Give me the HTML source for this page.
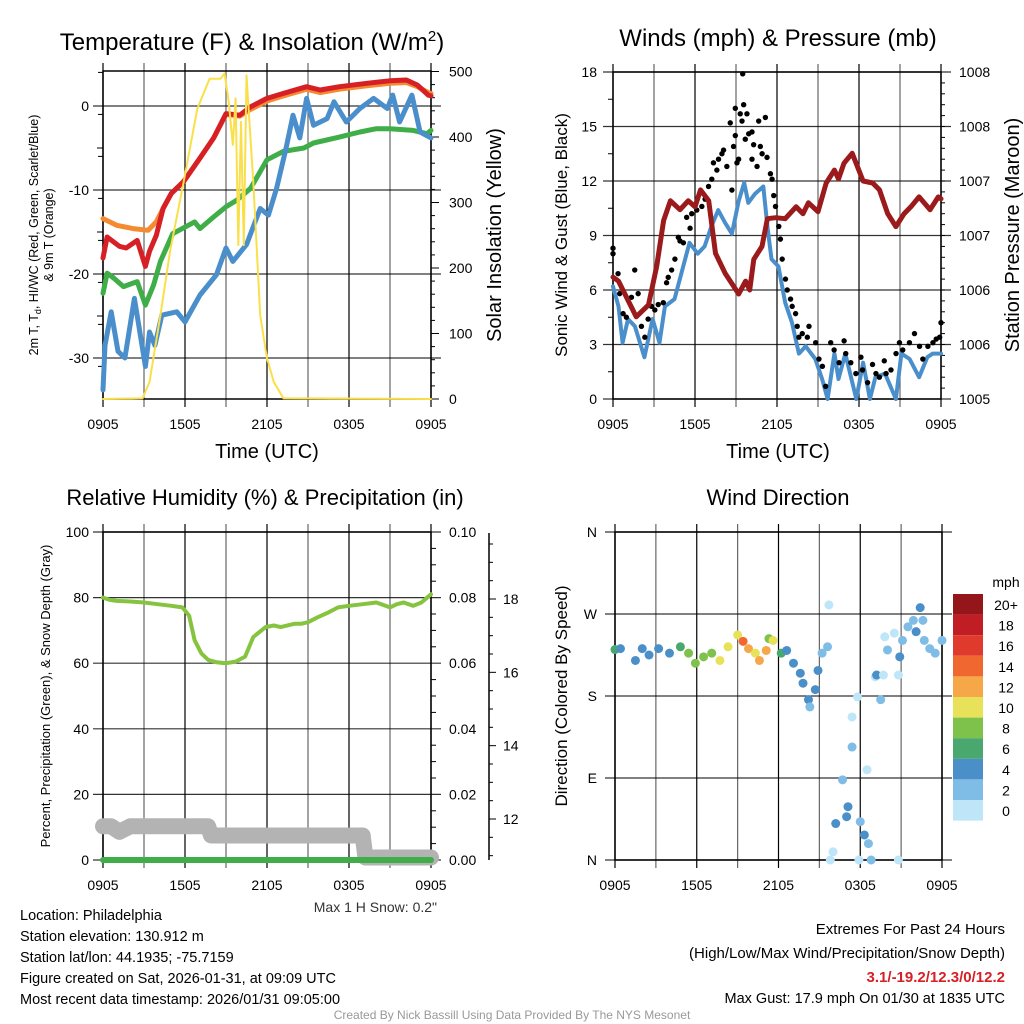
<!DOCTYPE html>
<html><head><meta charset="utf-8"><style>
html,body{margin:0;padding:0;background:#fff;}
svg{display:block;font-family:"Liberation Sans",Arial,sans-serif;}
</style></head><body>
<svg id="c" width="1024" height="1024" viewBox="0 0 1024 1024"></svg>
<script>
// ===== Data (hours since 0905 UTC) =====
const redHours = [0,0.3,0.8,1.2,1.7,2.5,3.1,3.4,3.9,4.4,5,5.9,7.1,8.1,9,10,10.8,12,13.2,14.9,15.9,17.3,19.3,21,22.2,23,23.8,24];
const tempRed = [-18.1,-15.6,-16.2,-16.7,-16.9,-16,-19.1,-17.3,-15.4,-12.2,-10.4,-9,-6.2,-3.8,-0.9,-1.1,-0.1,0.9,1.5,2.3,1.9,2.3,2.7,3,3.1,2.5,1.3,1.2];
const orangeHours = [0,1,2.2,3.3,3.9,4.4,5,5.9,7.1,8.1,9,10,10.8,12,13.2,14.9,15.9,17.3,19.3,21,22.2,23,23.8,24];
const tempOrange = [-13.4,-14.2,-14.6,-14.8,-13.8,-12.2,-10.4,-9,-6.2,-3.8,-1.0,-1.2,-0.4,0.6,1.2,2.0,1.6,2.0,2.4,2.7,2.8,2.3,1.6,1.5];
const greenHours = [0,0.3,0.8,1.5,2.5,3.1,3.7,4.2,5.1,6.7,7.1,8.1,9,9.8,10.8,12,13.2,14.7,15.4,17.3,18.8,20,21,22.7,23.7,24];
const tempGreen = [-22.3,-19.9,-20.5,-21.5,-20.9,-23.7,-21.3,-18.5,-15.2,-13.8,-14.6,-13.2,-12,-11.2,-9.8,-6.4,-5.4,-5,-4.4,-3.7,-3.1,-2.7,-2.7,-2.9,-3.3,-2.9];
const blueHours = [0,0.15,0.6,1.1,1.6,2.3,3.1,3.4,3.8,4.3,5.4,6,7.1,8.3,9,9.5,10.5,11.5,12.1,12.7,13.4,13.9,14.4,14.9,15.4,16.4,16.9,17.8,18.8,19.8,20.8,21.2,21.7,22.6,23.2,24];
const tempBlue = [-33.8,-28.5,-24.5,-29.2,-30,-22.9,-31,-26.9,-28.5,-24.9,-24.5,-25.7,-22.5,-20.1,-16.9,-18.5,-16.5,-12.2,-13,-9.8,-5,-1.1,-3.8,0.9,-2.3,-1.5,0.5,-1.9,-0.3,0.9,-0.3,1.3,-1.9,1.3,-3.1,-3.8];
const solHours = [0,2.9,3.4,4.2,4.9,5.9,6.9,7.8,8.6,8.9,9.2,9.5,9.7,9.9,10.1,10.3,10.5,11,11.5,12,12.5,13.2,24];
const insolation = [0,1,26,128,225,331,443,489,489,497,454,388,459,235,423,235,494,331,128,62,26,1,0];

const windHours = [0,0.4,0.7,1.1,1.6,2.3,2.9,3.4,3.8,4.5,5,5.6,6.2,6.7,7.2,7.7,8.2,8.7,9.2,9.6,9.9,10.4,11,11.3,11.6,12.1,12.6,13.1,13.6,14.1,14.8,15.3,15.7,16.2,16.5,17,17.8,18.3,18.8,19.2,19.9,20.7,21.1,21.7,22.4,23,23.4,24];
const windSpeed = [6.2,5.1,3.1,4.4,4,2.3,4.4,3.1,5.1,5.5,6.9,8.6,8,8.4,9.5,10.4,9.7,9.1,10.9,11.9,10.8,11.3,11.7,9.5,7.7,7.3,5.3,4.2,2.5,2.9,2.2,1.1,0,2.5,1.1,2.5,0,2,0,1.2,1.4,0,2.5,2.2,1.2,2.3,2.5,2.5];
const gustHours = [0,0,0.37,0.49,0.74,0.98,1.35,1.59,1.84,2.08,2.33,2.57,2.82,3.06,3.31,3.68,3.92,4.04,4.29,4.53,4.78,4.9,5.15,5.39,5.64,5.76,6.13,6.5,6.74,6.99,7.23,7.35,7.6,7.72,7.97,8.09,8.33,8.58,8.7,8.82,8.95,9.07,9.19,8.95,9.31,9.44,9.56,9.49,9.68,9.8,9.93,10.17,10.17,10.29,10.54,10.66,10.78,10.91,11.15,11.27,11.52,11.64,11.76,11.89,12.13,12.25,12.38,12.62,12.75,12.99,13.11,13.36,13.48,13.6,13.85,14.22,14.34,14.83,15.07,15.32,15.56,15.93,16.18,16.54,16.91,17.03,17.4,17.77,18.14,18.26,18.63,18.99,19.24,19.49,19.85,19.98,20.34,20.71,20.96,21.2,21.69,22.06,22.43,22.67,23.04,23.41,23.65,23.9,24];
const windGust = [8.0,8.3,6.9,5.8,4.7,4.5,5.6,7.1,5.8,4.0,3.4,4.4,5.1,4.9,5.2,5.3,6.4,6.7,7.1,7.7,8.9,8.7,8.6,10.0,9.4,10.2,10.4,10.6,11.0,11.7,12.1,13.0,12.6,13.2,13.5,13.7,12.8,15.2,11.5,13.9,14.5,13.0,13.2,16.0,15.7,15.3,16.2,17.9,14.3,15.7,14.6,14.7,13.2,14.0,12.8,15.3,13.9,13.5,15.5,13.3,12.4,12.1,11.2,10.6,9.5,8.8,7.7,6.6,6.0,5.5,5.1,4.7,4.0,3.4,3.6,3.4,4.0,3.1,2.2,1.8,0.7,3.1,2.7,2.0,3.2,2.5,2.0,1.4,2.3,1.6,0.9,1.9,1.4,1.2,2.1,1.4,1.6,2.5,3.1,2.7,3.1,3.6,2.9,2.2,2.9,3.1,3.3,3.4,4.2];
const presHours = [0,0.4,1.7,2.6,3.2,3.7,4.2,4.9,5.5,6,6.4,7,7.5,8.2,9.2,9.7,10,10.3,10.9,11.3,11.9,12.6,13.4,13.9,14.3,15,15.6,16.2,16.5,16.9,17.5,18.3,19,19.5,20.1,20.7,21.3,21.8,22.4,23.2,23.8,24];
const pressure = [1006.23,1006.19,1005.83,1005.95,1006.34,1006.80,1007.00,1006.91,1007.00,1006.94,1007.11,1007.00,1006.47,1006.27,1006.06,1006.19,1006.10,1006.41,1006.54,1006.82,1006.83,1006.82,1006.94,1006.87,1006.98,1006.89,1007.18,1007.31,1007.22,1007.38,1007.48,1007.20,1007.18,1007.11,1006.87,1006.74,1006.87,1006.94,1007.04,1006.91,1007.04,1007.02];

const rhHours = [0,0.5,1,2,3,4,5,5.8,6.3,6.7,7.2,7.7,8.3,9,9.7,10.4,11,11.9,12.5,13,14,14.5,15,15.7,16.5,17.2,18,19,20,21,21.5,22,22.7,23.3,24];
const rh = [80,79.3,79,78.8,78.5,78,77.5,77,74.5,67,63,61,60.3,60,60.5,62,68,71,71.5,71,72,72,72.5,74,75.5,77,77.5,78,78.5,77,78,78.5,77.5,78.5,81];
const precip = [0,0];
const precipHours = [0,24];
const snowHours = [0,0.6,1.2,2,7.7,7.9,19,19.2,24];
const snowDepth = [11.8,11.8,11.65,11.8,11.8,11.55,11.55,10.95,10.95];

const dirHours = [0,0.4,1.5,2,2.5,3.2,4,4.8,5.4,5.9,6.5,7.1,7.7,8.3,9,9.4,9.8,10.3,10.6,11.1,11.3,11.6,12.2,12.6,13.1,13.6,13.8,14.2,14.3,14.7,14.9,15.2,15.6,15.7,15.8,16,16.2,16.7,17,17.1,17.4,17.4,17.8,17.9,18.3,18,18.5,18.6,18.8,19.1,19.2,19.5,19.7,19.8,20,20.5,20.8,20.8,20.9,21.1,21.5,21.9,22.1,22.4,22.6,22.7,23.1,23.5,24];
const dirDeg = [231,232,219,232,225,232,227,234,227,216,223,227,219,234,247,240,232,227,219,230,243,241,227,230,216,205,194,176,168,187,208,227,234,280,0,9,40,88,47.5,58.5,124,157,179,0,27.5,42,99,18,0,201,203,176,203,245,230.5,249,203,0,223,241,256,263,250.6,277,263,241,232,227,241];
const dirSpeed = [5,4,4,3,3,4,4,5,7,8,8,8,10,10,9,13,12,10,12,12,8,10,6,4,4,3,3,3,2,3,3,1,1,0,0,0,3,1,4,4,1,0,0,0,4,1,0,1,1,0,4,1,0,0,2,0,0,0,3,2,2,2,3,4,2,1,2,2,2];
const speedBins = ["0","2","4","6","8","10","12","14","16","18","20+"];
const binColors = ["#bfe6f8","#7fbde6","#4a8fc8","#48a86e","#7ec24c","#e8e25a","#f6a748","#f06730","#e03a2d","#c01e24","#94161b"];
const xTicks = ["0905","1505","2105","0305","0905"];
const tempTicks = [0,-10,-20,-30];
const solTicks = [0,100,200,300,400,500];
const windTicks = [0,3,6,9,12,15,18];
const presTickLabels = ["1005","1006","1006","1007","1007","1008","1008"];
const rhTicks = [0,20,40,60,80,100];
const precipTicks = ["0.00","0.02","0.04","0.06","0.08","0.10"];
const snowTicks = [12,14,16,18];
const dirLabels = ["N","E","S","W","N"];

const NS='http://www.w3.org/2000/svg';
const svg=document.getElementById('c');
function el(tag,attrs,parent){const e=document.createElementNS(NS,tag);for(const k in attrs)e.setAttribute(k,attrs[k]);(parent||svg).appendChild(e);return e;}
function txt(s,x,y,size,anchor,parent,extra){const t=el('text',Object.assign({x:x,y:y,'font-size':size,'text-anchor':anchor||'middle',fill:'#000'},extra||{}),parent);t.textContent=s;return t;}
function lin(d0,d1,r0,r1){return v=>r0+(v-d0)/(d1-d0)*(r1-r0);}

function panel(name,L,T,R,B,yGrid){
  const g=el('g',{});
  
  
  for(let i=0;i<=8;i++){const x=L+(R-L)*i/8;el('line',{x1:x,y1:T-8,x2:x,y2:B+8,stroke:'#000','stroke-width':1.2,'stroke-opacity':i%2?0.6:1},g);}
  yGrid.forEach(y=>el('line',{x1:L-10,y1:y,x2:R+10,y2:y,stroke:'#000','stroke-width':1.2,'stroke-opacity':0.8},g));
  el('rect',{x:L,y:T,width:R-L,height:B-T,fill:'none',stroke:'#000','stroke-width':1.5},g);
  xTicks.forEach((s,i)=>{const t=txt(s,L+(R-L)*i/4,B+30,14,'middle',g);});
  return g;
}
function path(g,xs,ys,fx,fy,color,w,name){
  let d='';xs.forEach((h,i)=>{d+=(i?'L':'M')+fx(h).toFixed(1)+','+fy(ys[i]).toFixed(1);});
  const p=el('path',{d:d,fill:'none',stroke:color,'stroke-width':w,'stroke-linejoin':'round','stroke-linecap':'round'},g);
  
  
  return p;
}

// ===== Panel 1 =====
{
const L=103,T=71,R=431,B=399;
const fx=lin(0,24,L,R), fy=lin(0,-10,106,190), fs=lin(0,500,B,71.5);
const g=panel('temperature-panel',L,T,R,B,tempTicks.map(fy));
tempTicks.forEach(v=>txt(String(v),L-14,fy(v)+5,14,'end',g));
for(let v=4;v>=-34;v-=5){if(v%10!==0)el('line',{x1:L-5,y1:fy(v),x2:L,y2:fy(v),stroke:'#000'},g);}
for(let v=-5;v>=-34;v-=10)el('line',{x1:L-6,y1:fy(v),x2:L,y2:fy(v),stroke:'#000'},g);
solTicks.forEach(v=>{el('line',{x1:R,y1:fs(v),x2:R+8,y2:fs(v),stroke:'#000'},g);txt(String(v),R+18,fs(v)+5,14,'start',g);});
for(let v=20;v<500;v+=20)if(v%100)el('line',{x1:R,y1:fs(v),x2:R+4,y2:fs(v),stroke:'#000'},g);
path(g,orangeHours,tempOrange,fx,fy,'#f58a30',5,'temp-9m-line');
path(g,redHours,tempRed,fx,fy,'#d62026',5,'temp-2m-line');
path(g,greenHours,tempGreen,fx,fy,'#3fae49',5,'dewpoint-line');
path(g,blueHours,tempBlue,fx,fy,'#4a8fcb',5,'windchill-line');
path(g,solHours,insolation,fx,fs,'#f9e04b',2,'insolation-line');
const t=txt('Temperature (F) & Insolation (W/m',252,50,24,'middle',g);const s=el('tspan',{dy:-9,'font-size':15},t);s.textContent='2';const s2=el('tspan',{dy:9},t);s2.textContent=')';

txt('Time (UTC)',267,458,20,'middle',g);
const yl=el('text',{transform:'translate(38,235) rotate(-90)','font-size':12.5,'text-anchor':'middle'},g);yl.innerHTML='2m T, T<tspan font-size="9" dy="3">d</tspan><tspan dy="-3">, HI/WC (Red, Green, Scarlet/Blue)</tspan>';
txt('& 9m T (Orange)',0,0,12.5,'middle',g,{transform:'translate(53,235) rotate(-90)'});
txt('Solar Insolation (Yellow)',0,0,20,'middle',g,{transform:'translate(501,235) rotate(-90)'});
}
// ===== Panel 2 =====
{
const L=613,T=72,R=941,B=399;
const fx=lin(0,24,L,R), fy=lin(0,18,B,T), fp=lin(1005,1008.3,B,T);
const g=panel('winds-panel',L,T,R,B,windTicks.map(fy));
windTicks.forEach(v=>txt(String(v),L-16,fy(v)+5,14,'end',g));
presTickLabels.forEach((s,i)=>txt(s,R+18,fy(windTicks[i])+5,14,'start',g));
for(let v=1.5;v<18;v+=3)el('line',{x1:L-5,y1:fy(v),x2:L,y2:fy(v),stroke:'#000'},g);
for(let v=0.6;v<18;v+=0.6)el('line',{x1:R,y1:fy(v),x2:R+4,y2:fy(v),stroke:'#000'},g);
path(g,windHours,windSpeed,fx,fy,'#4a8fcb',4,'wind-speed-line');
gustHours.forEach((h,i)=>{const c=el('circle',{cx:fx(h),cy:fy(windGust[i]),r:2.7,fill:'#000'},g);});
path(g,presHours,pressure,fx,fp,'#9b1a1c',5,'pressure-line');
txt('Winds (mph) & Pressure (mb)',778,46,24,'middle',g);
txt('Time (UTC)',778,458,20,'middle',g);
txt('Sonic Wind & Gust (Blue, Black)',0,0,17,'middle',g,{transform:'translate(567,235) rotate(-90)'});
txt('Station Pressure (Maroon)',0,0,20,'middle',g,{transform:'translate(1019,235) rotate(-90)'});
}
// ===== Panel 3 =====
{
const L=103,T=532,R=431,B=860;
const fx=lin(0,24,L,R), fy=lin(0,100,B,T), fq=lin(0,0.1,B,T), fsn=lin(12,18,819,599);
const g=panel('humidity-panel',L,T,R,B,rhTicks.map(fy));
rhTicks.forEach(v=>txt(String(v),L-14,fy(v)+5,14,'end',g));
precipTicks.forEach((s,i)=>txt(s,R+18,fy(rhTicks[i])+5,14,'start',g));
for(let v=5;v<100;v+=5){if(v%20)el('line',{x1:R,y1:fy(v),x2:R+5,y2:fy(v),stroke:'#000'},g);}
el('line',{x1:489,y1:533,x2:489,y2:860,stroke:'#000','stroke-width':1.5},g);
snowTicks.forEach(v=>{el('line',{x1:489,y1:fsn(v),x2:496,y2:fsn(v),stroke:'#000'},g);txt(String(v),503,fsn(v)+5,14,'start',g);});
for(let v=11;v<=19.5;v+=0.5){if(v%2)el('line',{x1:489,y1:fsn(v),x2:493,y2:fsn(v),stroke:'#000'},g);}
path(g,snowHours,snowDepth,fx,fsn,'#b3b3b3',16,'snow-depth-line');
path(g,precipHours,precip,fx,fq,'#3fae49',6,'precip-line');
path(g,rhHours,rh,fx,fy,'#86c440',4,'rh-line');
txt('Relative Humidity (%) & Precipitation (in)',265,505,22,'middle',g);
txt('Percent, Precipitation (Green), & Snow Depth (Gray)',0,0,13,'middle',g,{transform:'translate(50,696) rotate(-90)'});
txt('Max 1 H Snow: 0.2"',437,912,14,'end',g,{fill:'#333'});
}
// ===== Panel 4 =====
{
const L=615,T=532,R=942,B=860;
const fx=lin(0,24,L,R), fy=lin(0,360,B,T);
const g=panel('wind-direction-panel',L,T,R,B,[0,90,180,270,360].map(fy));
dirLabels.forEach((s,i)=>txt(s,L-18,fy(i*90)+5,14,'end',g));
dirHours.forEach((h,i)=>{const b=Math.min(10,Math.round(dirSpeed[i]/2));const c=el('circle',{cx:fx(h),cy:fy(dirDeg[i]),r:4.5,fill:binColors[b]},g);});
txt('Wind Direction',778,505,22,'middle',g);
txt('Direction (Colored By Speed)',0,0,17,'middle',g,{transform:'translate(567,696) rotate(-90)'});
const lg=el('g',{},g);


txt('mph',1006,587,14,'middle',lg);
for(let i=0;i<11;i++){const y=594+i*20.6;el('rect',{x:953,y:y,width:30,height:20.6,fill:binColors[10-i]},lg);txt(speedBins[10-i],1006,y+16,14,'middle',lg);}
}
// ===== Footer text =====
{
const g=el('g',{});


["Location: Philadelphia","Station elevation: 130.912 m","Station lat/lon: 44.1935; -75.7159","Figure created on Sat, 2026-01-31, at 09:09 UTC","Most recent data timestamp: 2026/01/31 09:05:00"].forEach((s,i)=>txt(s,20,920+i*21,14.5,'start',g));
const g2=el('g',{});


txt('Extremes For Past 24 Hours',1005,934,15,'end',g2);
txt('(High/Low/Max Wind/Precipitation/Snow Depth)',1005,958,15,'end',g2);
txt('3.1/-19.2/12.3/0/12.2',1005,982,15,'end',g2,{fill:'#d62026','font-weight':'bold'});
txt('Max Gust: 17.9 mph On 01/30 at 1835 UTC',1005,1003,14.5,'end',g2);
txt('Created By Nick Bassill Using Data Provided By The NYS Mesonet',512,1019,12,'middle',null,{fill:'#999'});
}
</script>
</body></html>
